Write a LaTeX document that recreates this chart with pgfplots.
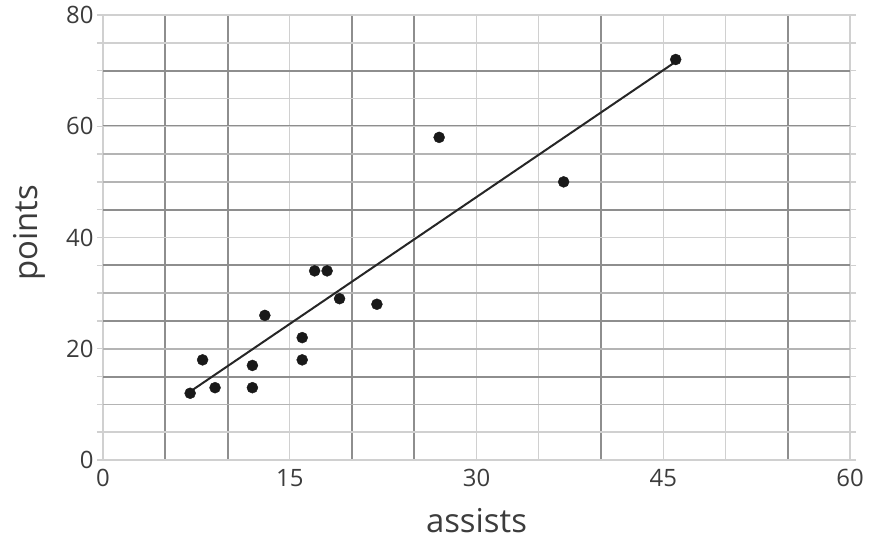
\documentclass[border=0pt]{standalone}
\usepackage{pgfplots}
\pgfplotsset{compat=1.18}
\usepackage{fontspec}
\setmainfont{Open Sans}
\definecolor{gridlight}{HTML}{D0D0D0}
\definecolor{gridmid}{HTML}{B4B4B4}
\definecolor{griddark}{HTML}{8E8E8E}
\definecolor{txt}{HTML}{3C3C3C}
\begin{document}
\begin{tikzpicture}
\begin{axis}[
    name=ax,
    scale only axis,
    width=747bp, height=445bp,
    xmin=0, xmax=60, ymin=0, ymax=80,
    xtick={0,15,30,35,45,50,60},
    xticklabels={0,15,30,,45,,60},
    ytick={0,5,20,40,60,65,75,80},
    yticklabels={0,,20,40,60,,,80},
    minor xtick={5,10,20,25,40,55,60},
    minor ytick={0,15,25,35,45,60,70,80},
    extra y ticks={10,20,30,50,55}, extra y tick labels={},
    extra tick style={major grid style={gridmid, line width=1.7bp}},
    grid=both,
    major grid style={gridlight, line width=1.4bp},
    minor grid style={griddark, line width=2bp},
    axis line style={draw=none},
    tick align=outside,
    major tick length=6bp, minor tick length=6bp,
    x tick style={draw=none},
    y tick style={gridlight, line width=1.4bp},
    tick label style={font=\fontsize{24}{28}\selectfont, text=txt},
    /pgf/number format/assume math mode=true,
    xlabel={assists}, ylabel={points},
    label style={font=\fontsize{33}{38}\selectfont, text=txt},
    xlabel style={at={(axis description cs:0.5,-0.137)}, anchor=center},
    ylabel style={at={(axis description cs:-0.098,0.51)}, anchor=center},
]
% players: assists vs points
\addplot[only marks, mark=*, mark size=5.5bp, black!90] coordinates {
    (7,12) (8,18) (9,13) (12,17) (12,13) (13,26) (16,22) (16,18)
    (17,34) (18,34) (19,29) (22,28) (27,58) (37,50) (46,72)
};
% fitted line
\addplot[black!85, line width=2bp] coordinates {(7,12.3) (46,71.6)};
\end{axis}
\pgfresetboundingbox
\path ([xshift=-103bp,yshift=-81bp]ax.south west) rectangle ([xshift=20bp,yshift=15bp]ax.north east);
\end{tikzpicture}
\end{document}
